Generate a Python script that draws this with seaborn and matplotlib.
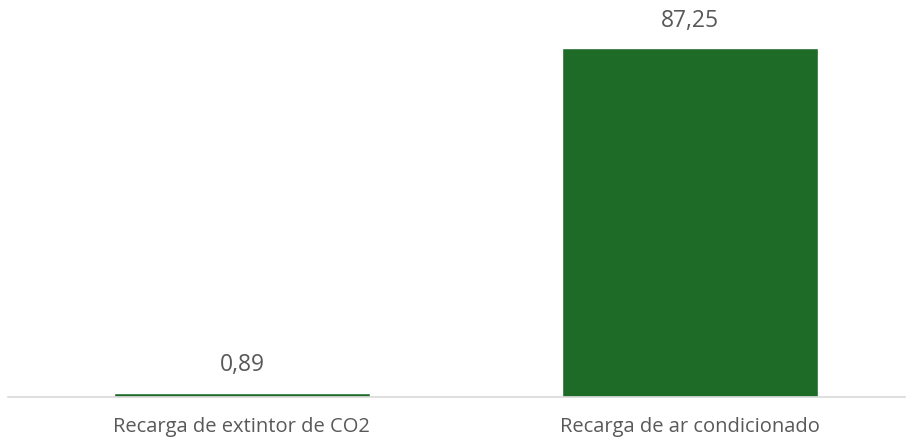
import pandas as pd
import matplotlib
matplotlib.use("Agg")
import matplotlib.pyplot as plt
import seaborn as sns

# --- DATA ---
categories = ["Recarga de extintor de CO2", "Recarga de ar condicionado"]
values = [0.89, 87.25]
value_labels = ["0,89", "87,25"]

BAR_COLOR = "#1E6B28"
TEXT_COLOR = "#595959"
AXIS_COLOR = "#D9D9D9"

df = pd.DataFrame({"categoria": categories, "valor": values})

sns.set_theme(style="white")
plt.rcParams["font.family"] = ["Open Sans", "DejaVu Sans"]

fig = plt.figure(figsize=(9.13, 4.43), dpi=100)
ax = fig.add_axes([0.0088, 46.5 / 443, 0.9824, 396.5 / 443])

sns.barplot(data=df, x="categoria", y="valor", color=BAR_COLOR,
            width=0.571, saturation=1, ax=ax)

ax.set_xlim(-0.522, 1.48)
ax.set_ylim(0, 99.4)

# rótulos de valor acima das barras
for i, (v, lab) in enumerate(zip(values, value_labels)):
    ax.annotate(lab, (i, v), xytext=(0, 20), textcoords="offset points",
                ha="center", va="center", fontsize=16.5, color=TEXT_COLOR)

for s in ["top", "right", "left"]:
    ax.spines[s].set_visible(False)
ax.spines["bottom"].set_color(AXIS_COLOR)
ax.spines["bottom"].set_linewidth(1.2)

ax.set_yticks([])
ax.set_xlabel("")
ax.set_ylabel("")
ax.tick_params(axis="x", length=0, pad=15, labelsize=14.5, labelcolor=TEXT_COLOR)

fig.savefig("out.png", dpi=100)
